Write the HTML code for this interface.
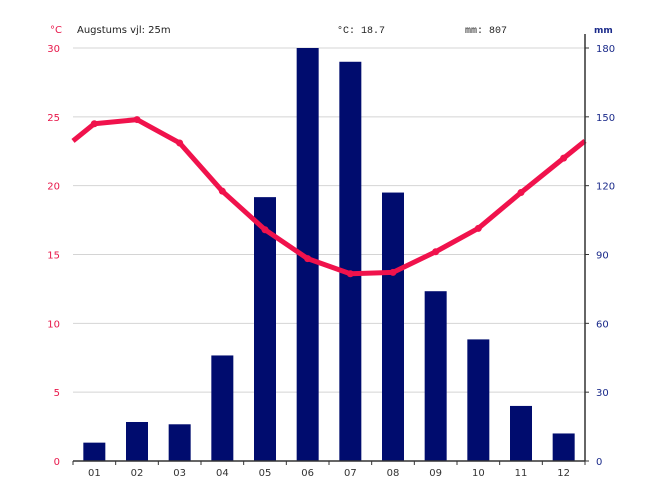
<!DOCTYPE html>
<html><head><meta charset="utf-8">
<style>
html,body{margin:0;padding:0;background:#fff;}
svg{display:block;font-family:"DejaVu Sans","Liberation Sans",sans-serif;}
</style></head>
<body>
<svg id="chart" width="658" height="493" viewBox="0 0 658 493" xmlns="http://www.w3.org/2000/svg">
<text x="50" y="33" font-size="10" fill="#e8174a">°C</text>
<text x="77" y="33" font-size="10" fill="#222">Augstums vjl: 25m</text>
<text x="337" y="33" font-size="10" fill="#222" font-family="Liberation Mono, monospace">°C: 18.7</text>
<text x="465" y="33" font-size="10" fill="#222" font-family="Liberation Mono, monospace">mm: 807</text>
<text x="594" y="33" font-size="9" font-weight="bold" fill="#1a2a8a">mm</text>
<g id="grid"></g>
<g id="bars"></g>
<g id="line"></g>
<g id="axes"></g>
</svg>
<script>
const months = ["01","02","03","04","05","06","07","08","09","10","11","12"];
const precip = [8, 17, 16, 46, 115, 180, 174, 117, 74, 53, 24, 12];
const temps = [24.5, 24.8, 23.1, 19.6, 16.8, 14.7, 13.6, 13.7, 15.2, 16.9, 19.5, 22.0];
const tempTicks = [0, 5, 10, 15, 20, 25, 30];
const precipTicks = [0, 30, 60, 90, 120, 150, 180];

const NS = "http://www.w3.org/2000/svg";
const X0 = 73, X1 = 585, Y0 = 461, Y1 = 48;
const slot = (X1 - X0) / months.length;
const xC = i => X0 + slot * (i + 0.5);
const yT = t => Y0 - (t / 30) * (Y0 - Y1);
const yP = p => Y0 - (p / 180) * (Y0 - Y1);
function mk(tag, attrs, parent) {
  const e = document.createElementNS(NS, tag);
  for (const k in attrs) e.setAttribute(k, attrs[k]);
  parent.appendChild(e);
  return e;
}
const grid = document.getElementById("grid");
const bars = document.getElementById("bars");
const lineG = document.getElementById("line");
const axes = document.getElementById("axes");

tempTicks.forEach((t, i) => {
  const y = yT(t);
  if (t > 0) {
    const g = mk("line", {x1: X0, x2: X1, y1: y, y2: y, stroke: "#d4d4d4", "stroke-width": 1}, grid);
    
    
  }
  const lt = mk("text", {x: 60, y: y + 4, "font-size": 10, fill: "#e8174a", "text-anchor": "end"}, axes);
  lt.textContent = t;
  
  
});
precipTicks.forEach(p => {
  const y = yP(p);
  const rt = mk("text", {x: 596, y: y + 4, "font-size": 10, fill: "#1a2a8a"}, axes);
  rt.textContent = p;
  
  
  mk("line", {x1: X1, x2: X1 + 4, y1: y, y2: y, stroke: "#333"}, axes);
});

precip.forEach((p, i) => {
  const r = mk("rect", {x: xC(i) - 11, y: yP(p), width: 22, height: Y0 - yP(p), fill: "#000c6e"}, bars);
  
  
});

const edge = (temps[0] + temps[11]) / 2;
let pts = [[X0, yT(edge)]];
temps.forEach((t, i) => pts.push([xC(i), yT(t)]));
pts.push([X1, yT(edge)]);
const pl = mk("polyline", {points: pts.map(p => p.join(",")).join(" "), fill: "none", stroke: "#f0124c", "stroke-width": 5, "stroke-linejoin": "round"}, lineG);


temps.forEach((t, i) => {
  const c = mk("circle", {cx: xC(i), cy: yT(t), r: 3.5, fill: "#f0124c"}, lineG);
  
  
});

const xa = mk("line", {x1: X0, x2: X1, y1: Y0, y2: Y0, stroke: "#333", "stroke-width": 1.5}, axes);


const ra = mk("line", {x1: X1, x2: X1, y1: 34, y2: Y0, stroke: "#333", "stroke-width": 1.5}, axes);


for (let i = 0; i <= months.length; i++) {
  mk("line", {x1: X0 + slot * i, x2: X0 + slot * i, y1: Y0, y2: Y0 + 4, stroke: "#333"}, axes);
}
months.forEach((m, i) => {
  const t = mk("text", {x: xC(i), y: Y0 + 15, "font-size": 10, fill: "#333", "text-anchor": "middle"}, axes);
  t.textContent = m;
  
  
});
</script>
</body></html>
